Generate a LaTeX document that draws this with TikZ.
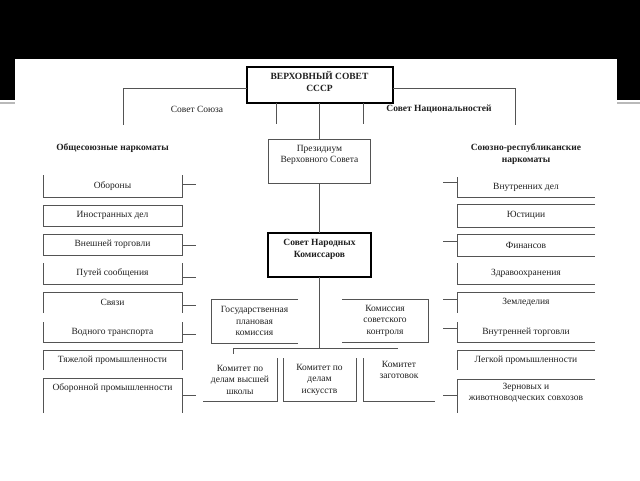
\documentclass[tikz,border=0pt]{standalone}
\usepackage{fontspec}
\setmainfont{Liberation Serif}
\definecolor{linec}{gray}{0.33}
\definecolor{txtc}{gray}{0.12}
\begin{document}
\begin{tikzpicture}[x=1pt,y=-1pt,
  ln/.style={draw=linec, line width=0.9pt},
  area/.style={inner sep=0pt, outer sep=0pt, align=center, text=txtc, font=\fontsize{9.5}{11.5}\selectfont},
  hdr/.style={area, font=\bfseries\fontsize{9.5}{12}\selectfont},
  bigbox/.style={draw=black, line width=2pt, inner sep=0pt, outer sep=0pt},
  thinbox/.style={draw=linec, line width=0.9pt, inner sep=0pt, outer sep=0pt},
  lcell/.style={area, minimum width=139pt},
  rcell/.style={area, minimum width=138pt}]
\useasboundingbox (0,0) rectangle (640,480);
% slide background
\fill[black] (0,0) rectangle (640,59);
\fill[black] (0,59) rectangle (15,100);
\fill[black] (617,59) rectangle (640,100);
\draw[gray!55, line width=1.5pt] (0,103) -- (15,103) (617,103) -- (640,103);

% top box
\node[bigbox, minimum width=146pt, minimum height=36pt] (V) at (319.5,85) {};
\node[hdr] (Vt) at (319.5,81) {ВЕРХОВНЫЙ СОВЕТ\\СССР};
\coordinate (cl) at (123,125);
\coordinate (cr) at (515,125);
\coordinate (dl) at (276,124);
\coordinate (dr) at (363,124);
\draw[ln] ([yshift=-3pt]V.west) -| (cl);
\draw[ln] ([yshift=-3pt]V.east) -| (cr);
\draw[ln] (V.south -| dl) -- (dl);
\draw[ln] (V.south -| dr) -- (dr);
\node[area] (su) at (197,109) {Совет Союза};
\node[hdr] (sn) at (439,109) {Совет Национальностей};

% presidium
\node[thinbox, minimum width=102pt, minimum height=44pt] (P) at (319.5,161) {};
\node[area] (Pt) at (319.5,155) {Президиум\\Верховного Совета};
\draw[ln] (V.south) -- (P.north);

% SNK
\node[bigbox, minimum width=103pt, minimum height=44pt] (S) at (319.5,255) {};
\node[hdr] (St) at (319.5,249) {Совет Народных\\Комиссаров};
\draw[ln] (P.south) -- (S.north);

% committees
\coordinate (hl) at (233,348);
\coordinate (hr) at (398,348);
\coordinate (hm) at (319.5,348);
\coordinate (ht) at (233,354);
\draw[ln] (S.south) -- (hm);
\draw[ln] (hl) -- (hr);
\draw[ln] (hl) -- (ht);

\node[area, minimum width=87pt, minimum height=44pt] (G) at (254.5,321) {Государственная\\плановая\\комиссия};
\draw[ln] (G.north east) -- (G.north west) -- (G.south west) -- (G.south east);
\node[area, minimum width=86pt, minimum height=43pt] (K) at (385,320.5) {Комиссия\\советского\\контроля};
\draw[ln] (K.north west) -- (K.north east) -- (K.south east) -- (K.south west);

\node[area, minimum width=74pt, minimum height=43pt] (B1) at (240,379.5) {Комитет по\\делам высшей\\школы};
\draw[ln] (B1.north east) -- (B1.south east) -- (B1.south west);
\node[area, minimum width=73pt, minimum height=43pt] (B2) at (319.5,379.5) {Комитет по\\делам\\искусств};
\draw[ln] (B2.north west) -- (B2.south west) -- (B2.south east) -- (B2.north east);
\node[area, minimum width=72pt, minimum height=43pt] (B3) at (399,379.5) {};
\node[area] (B3t) at (399,370) {Комитет\\заготовок};
\draw[ln] (B3.north west) -- (B3.south west) -- (B3.south east);

% left column
\node[hdr] (lh) at (112.5,148) {Общесоюзные наркоматы};
\node[lcell, minimum height=22pt] (L1) at (112.5,186) {Обороны};
\draw[ln] (L1.north west) -- (L1.south west) -- (L1.south east) -- (L1.north east);
\node[lcell, minimum height=21pt] (L2) at (112.5,215.5) {Иностранных дел};
\draw[ln] (L2.north west) rectangle (L2.south east);
\node[lcell, minimum height=21pt] (L3) at (112.5,244.5) {Внешней торговли};
\draw[ln] (L3.north west) rectangle (L3.south east);
\node[lcell, minimum height=21pt] (L4) at (112.5,273.5) {Путей сообщения};
\draw[ln] (L4.north west) -- (L4.south west) -- (L4.south east) -- (L4.north east);
\node[lcell, minimum height=21pt] (L5) at (112.5,302.5) {Связи};
\draw[ln] (L5.south west) -- (L5.north west) -- (L5.north east) -- (L5.south east);
\node[lcell, minimum height=20pt] (L6) at (112.5,332) {Водного транспорта};
\draw[ln] (L6.north west) -- (L6.south west) -- (L6.south east) -- (L6.north east);
\node[lcell, minimum height=20pt] (L7) at (112.5,360) {Тяжелой промышленности};
\draw[ln] (L7.south west) -- (L7.north west) -- (L7.north east) -- (L7.south east);
\node[lcell, minimum height=20pt] (L8) at (112.5,388) {Оборонной промышленности};
\draw[ln] ([yshift=-15pt]L8.south west) -- (L8.north west) -- (L8.north east) -- ([yshift=-15pt]L8.south east);
\coordinate (s1) at (196,184);
\coordinate (s3) at (196,245);
\coordinate (s4) at (196,277);
\coordinate (s5) at (196,305);
\coordinate (s6) at (196,334);
\coordinate (s8) at (196,395);
\draw[ln] (L1.east |- s1) -- (s1);
\draw[ln] (L3.east |- s3) -- (s3);
\draw[ln] (L4.east |- s4) -- (s4);
\draw[ln] (L5.east |- s5) -- (s5);
\draw[ln] (L6.east |- s6) -- (s6);
\draw[ln] (L8.east |- s8) -- (s8);

% right column
\node[hdr] (rh) at (526,154) {Союзно-республиканские\\наркоматы};
\node[rcell, minimum height=20pt] (R1) at (526,187) {Внутренних дел};
\draw[ln] (R1.north west) -- (R1.south west) -- (R1.south east);
\node[rcell, minimum height=23pt] (R2) at (526,215.5) {Юстиции};
\draw[ln] (R2.north east) -- (R2.north west) -- (R2.south west) -- (R2.south east);
\node[rcell, minimum height=22pt] (R3) at (526,245) {Финансов};
\draw[ln] (R3.north east) -- (R3.north west) -- (R3.south west) -- (R3.south east);
\node[rcell, minimum height=21pt] (R4) at (526,273.5) {Здравоохранения};
\draw[ln] (R4.north west) -- (R4.south west) -- (R4.south east);
\node[rcell, minimum height=21pt] (R5) at (526,302.5) {Земледелия};
\draw[ln] (R5.north east) -- (R5.north west) -- (R5.south west);
\node[rcell, minimum height=20pt] (R6) at (526,332) {Внутренней торговли};
\draw[ln] (R6.north west) -- (R6.south west) -- (R6.south east);
\node[rcell, minimum height=20pt] (R7) at (526,360) {Легкой промышленности};
\draw[ln] (R7.north east) -- (R7.north west) -- (R7.south west);
\node[rcell, minimum height=19pt] (R8) at (526,388.5) {};
\node[area] (R8t) at (526,393) {Зерновых и\\животноводческих совхозов};
\draw[ln] (R8.north east) -- (R8.north west) -- ([yshift=-15pt]R8.south west);
\coordinate (t1) at (443,182);
\coordinate (t3) at (443,241);
\coordinate (t5) at (443,299);
\coordinate (t6) at (443,328);
\coordinate (t8) at (443,395);
\draw[ln] (R1.west |- t1) -- (t1);
\draw[ln] (R3.west |- t3) -- (t3);
\draw[ln] (R5.west |- t5) -- (t5);
\draw[ln] (R6.west |- t6) -- (t6);
\draw[ln] (R8.west |- t8) -- (t8);
\end{tikzpicture}
\end{document}
